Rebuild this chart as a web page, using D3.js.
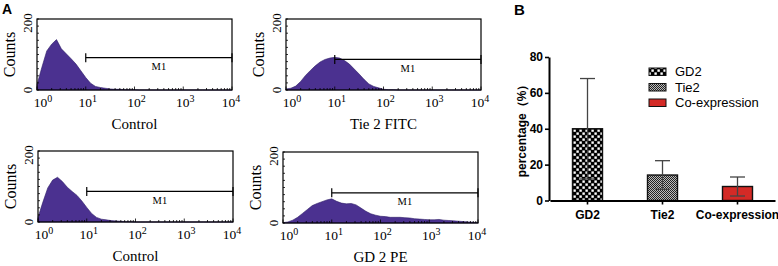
<!DOCTYPE html>
<html lang="en">
<head>
  <meta charset="UTF-8">
  <title>Flow cytometry histograms and percentage bars</title>
  <script src="https://d3js.org/d3.v7.min.js"></script>
  <style>
    body { margin: 0; background: #fff; }
    .serif text, text.serif { font-family: "Liberation Serif", "DejaVu Serif", serif; }
    .sans text, text.sans { font-family: "Liberation Sans", Arial, sans-serif; }
    .hist { fill: #4b3190; stroke: #2e1c66; stroke-width: 0.6; }
    .frame { fill: none; stroke: #000; stroke-width: 1.2; }
    .gate { stroke: #000; stroke-width: 1.2; fill: none; }
  </style>
</head>
<body>
<script>
  // ---------- Panel A data (counts per 0.1 log-decade channel, 10^0 .. 10^4) ----------
  const exponents = ['0', '1', '2', '3', '4'];
  const controlTop = [15, 64, 110, 129, 142, 116, 102, 88, 73, 54,
                      35, 19, 10, 7, 5, 3, 2, 2, 1, 1,
                      1, 0, 0, 0, 0, 0, 0, 0, 0, 0,
                      0, 0, 0, 0, 0, 0, 0, 0, 0, 0, 0];
  const tie2Fitc   = [3, 5, 11, 24, 41, 55, 68, 79, 86, 90,
                      92, 90, 83, 73, 59, 45, 30, 17, 10, 6,
                      2, 1, 1, 0, 0, 0, 0, 0, 0, 0,
                      0, 0, 0, 0, 0, 0, 0, 0, 0, 0, 0];
  const controlBottom = [13, 56, 96, 118, 126, 114, 98, 86, 75, 59,
                         41, 24, 13, 8, 6, 4, 3, 2, 1, 1,
                         0, 0, 0, 0, 0, 0, 0, 0, 0, 0,
                         0, 0, 0, 0, 0, 0, 0, 0, 0, 0, 0];
  const gd2Pe      = [1, 3, 8, 16, 27, 38, 49, 55, 60, 65,
                      68, 61, 56, 54, 55, 51, 42, 33, 26, 22,
                      19, 18, 16, 16, 16, 15, 14, 12, 11, 10,
                      9, 9, 10, 8, 7, 6, 5, 4, 3, 2, 1];
  const histLabels = ['Control', 'Tie 2 FITC', 'Control', 'GD 2 PE'];
  const gateCounts = [91, 86, 86, 85];   // M1 marker height (counts)

  // ---------- Panel B data ----------
  const groups = ['GD2', 'Tie2', 'Co-expression'];
  const means = [40, 14.2, 7.8];
  const sds = [28, 8, 5.3];
  const yTicks = [0, 20, 40, 60, 80];

  const W = 778, H = 266;
  const svg = d3.select('body').append('svg')
    .attr('width', W).attr('height', H)
    .style('background', '#fff');

  // patterns for bars
  const defs = svg.append('defs');
  const checker = defs.append('pattern').attr('id', 'checker')
    .attr('width', 6).attr('height', 6).attr('patternUnits', 'userSpaceOnUse');
  checker.append('rect').attr('width', 6).attr('height', 6).attr('fill', '#000');
  checker.append('rect').attr('x', 0.4).attr('y', 0.4).attr('width', 2.4).attr('height', 2.4).attr('fill', '#fff');
  checker.append('rect').attr('x', 3.4).attr('y', 3.4).attr('width', 2.4).attr('height', 2.4).attr('fill', '#fff');
  const fine = defs.append('pattern').attr('id', 'fine')
    .attr('width', 2).attr('height', 2).attr('patternUnits', 'userSpaceOnUse');
  fine.append('rect').attr('width', 2).attr('height', 2).attr('fill', '#bbb');
  fine.append('rect').attr('width', 1).attr('height', 1).attr('fill', '#222');
  fine.append('rect').attr('x', 1).attr('y', 1).attr('width', 1).attr('height', 1).attr('fill', '#222');
  const fills = ['url(#checker)', 'url(#fine)', '#d42a26'];

  // ---------- Panel A ----------
  svg.append('text').attr('class', 'sans').attr('x', 2).attr('y', 14)
    .attr('font-size', 14).attr('font-weight', 'bold').text('A');

  const histData = [controlTop, tie2Fitc, controlBottom, gd2Pe];
  const origins = [[37, 19], [286, 19], [38, 151], [283, 152]];
  const pw = 195, ph = 71;
  const logs = d3.range(41).map(i => i / 10);

  histData.forEach((counts, k) => {
    const [x0, y0] = origins[k];
    const g = svg.append('g').attr('class', 'serif');
    const x = d3.scaleLog().domain([1, 1e4]).range([x0, x0 + pw]);
    const y = d3.scaleLinear().domain([0, 200]).range([y0 + ph, y0]);

    const area = d3.area()
      .x((d, i) => x(Math.pow(10, logs[i])))
      .y0(y(0))
      .y1(d => y(d));
    g.append('path').datum(counts).attr('class', 'hist').attr('d', area);

    g.append('rect').attr('class', 'frame')
      .attr('x', x0).attr('y', y0).attr('width', pw).attr('height', ph);

    // log minor / major ticks on the bottom edge
    const minor = [];
    for (let e = 0; e < 4; e++) for (let m = 1; m < 10; m++) minor.push(m * Math.pow(10, e));
    minor.push(1e4);
    g.selectAll('.mt').data(minor).enter().append('line')
      .attr('x1', d => x(d)).attr('x2', d => x(d))
      .attr('y1', y(0)).attr('y2', d => Math.log10(d) % 1 === 0 ? y(0) - 3.5 : y(0) - 2)
      .attr('stroke', '#000').attr('stroke-width', 0.8);
    // left edge ticks
    g.selectAll('.yt').data(d3.range(0, 201, 20)).enter().append('line')
      .attr('x1', x0).attr('x2', x0 + 2)
      .attr('y1', d => y(d)).attr('y2', d => y(d))
      .attr('stroke', '#000').attr('stroke-width', 0.8);

    // x tick labels 10^n
    exponents.forEach((ex, i) => {
      const off = i === 0 ? 6 : i === 4 ? -1 : 2;
      const t = g.append('text').attr('x', x(Math.pow(10, +ex)) + off).attr('y', y0 + ph + 17)
        .attr('text-anchor', 'middle').attr('font-size', 13.5);
      t.append('tspan').text('10');
      t.append('tspan').attr('dy', -5.5).attr('font-size', 10).text(ex);
    });

    // y labels
    g.append('text').attr('transform', `translate(${x0 - 5},${y(200) + 4}) rotate(-90)`)
      .attr('text-anchor', 'middle').attr('font-size', 13).text('200');
    g.append('text').attr('transform', `translate(${x0 - 5},${y(0)}) rotate(-90)`)
      .attr('text-anchor', 'middle').attr('font-size', 13).text('0');
    g.append('text').attr('transform', `translate(${x0 - 22},${y0 + ph / 2}) rotate(-90)`)
      .attr('text-anchor', 'middle').attr('font-size', 16).text('Counts');

    g.append('text').attr('x', x0 + pw / 2).attr('y', y0 + ph + 39)
      .attr('text-anchor', 'middle').attr('font-size', 15).text(histLabels[k]);

    // M1 gate marker
    const gy = y(gateCounts[k]);
    const gx1 = x(10), gx2 = x(1e4);
    g.append('line').attr('class', 'gate').attr('x1', gx1).attr('x2', gx2).attr('y1', gy).attr('y2', gy);
    [gx1, gx2].forEach(gx => g.append('line').attr('class', 'gate')
      .attr('x1', gx).attr('x2', gx).attr('y1', gy - 4.5).attr('y2', gy + 4.5));
    g.append('text').attr('x', (gx1 + gx2) / 2).attr('y', gy + 12.5)
      .attr('text-anchor', 'middle').attr('font-size', 10.5).text('M1');
  });

  // ---------- Panel B ----------
  const gb = svg.append('g').attr('class', 'sans');
  gb.append('text').attr('x', 514).attr('y', 15)
    .attr('font-size', 15).attr('font-weight', 'bold').text('B');

  const xb = d3.scaleBand().domain(groups).range([550, 775])
    .paddingInner(0.6).paddingOuter(0.3);
  const yb = d3.scaleLinear().domain([0, 80]).range([200.5, 57]);

  gb.selectAll('.bar').data(groups).enter().append('rect')
    .attr('x', d => xb(d)).attr('width', xb.bandwidth())
    .attr('y', (d, i) => yb(means[i])).attr('height', (d, i) => yb(0) - yb(means[i]))
    .attr('fill', (d, i) => fills[i]).attr('stroke', '#111').attr('stroke-width', 1.4);

  // error bars (mean ± SD)
  groups.forEach((grp, i) => {
    const cx = xb(grp) + xb.bandwidth() / 2;
    const lo = yb(means[i] - sds[i]), hi = yb(means[i] + sds[i]);
    const eg = gb.append('g').attr('stroke', '#444').attr('stroke-width', 1.3);
    eg.append('line').attr('x1', cx).attr('x2', cx).attr('y1', lo).attr('y2', hi);
    eg.append('line').attr('x1', cx - 7.5).attr('x2', cx + 7.5).attr('y1', hi).attr('y2', hi);
    eg.append('line').attr('x1', cx - 7.5).attr('x2', cx + 7.5).attr('y1', lo).attr('y2', lo);
  });

  const yAxis = gb.append('g').attr('transform', 'translate(549,0)')
    .call(d3.axisLeft(yb).tickValues(yTicks).tickSize(4).tickSizeOuter(0).tickPadding(2));
  const xAxis = gb.append('g').attr('transform', `translate(0,${yb(0)})`)
    .call(d3.axisBottom(xb).tickSize(4).tickSizeOuter(0).tickPadding(6));
  [yAxis, xAxis].forEach(a => {
    a.select('.domain').attr('stroke', '#000').attr('stroke-width', 2);
    a.selectAll('.tick line').attr('stroke', '#000').attr('stroke-width', 1.6);
    a.selectAll('text').attr('font-family', '"Liberation Sans", Arial, sans-serif')
      .attr('font-size', 12).attr('font-weight', 'bold').attr('fill', '#000');
  });

  gb.append('text').attr('transform', 'translate(526,128) rotate(-90)')
    .attr('text-anchor', 'middle').attr('font-size', 12).attr('font-weight', 'bold')
    .text('percentage（%）');

  // legend
  const leg = gb.append('g');
  groups.forEach((grp, i) => {
    const ly = 68 + i * 15.5;
    leg.append('rect').attr('x', 649).attr('y', ly).attr('width', 17).attr('height', 7.5)
      .attr('fill', fills[i]).attr('stroke', '#111').attr('stroke-width', 1);
    leg.append('text').attr('x', 675).attr('y', ly + 8).attr('font-size', 13).text(grp);
  });
</script>
</body>
</html>
